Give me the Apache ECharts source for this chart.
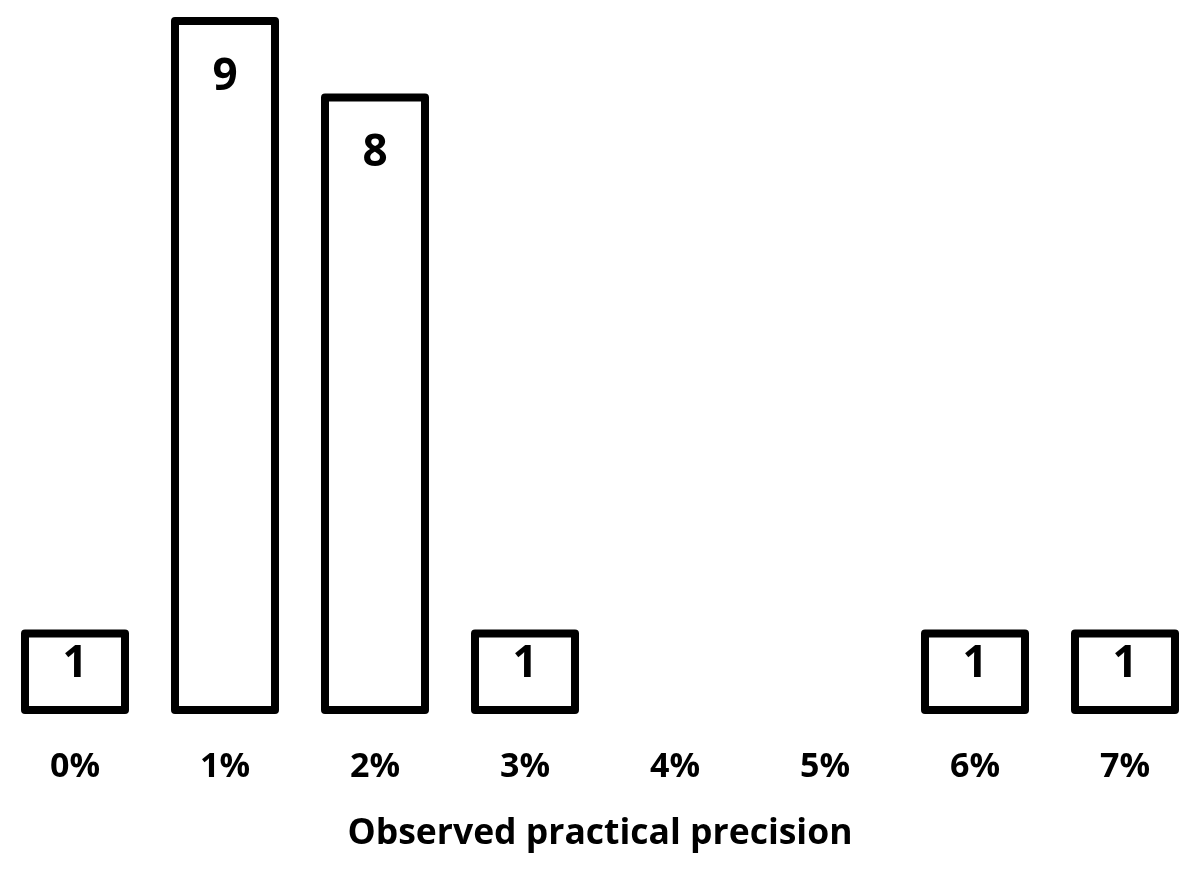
<!DOCTYPE html>
<html>
<head>
<meta charset="utf-8">
<script src="https://cdn.jsdelivr.net/npm/echarts@6/dist/echarts.min.js"></script>
<style>
html,body{margin:0;padding:0;background:#fff;}
#chart{width:1200px;height:884px;}
</style>
</head>
<body>
<div id="chart"></div>
<script>
const categories = ['0%', '1%', '2%', '3%', '4%', '5%', '6%', '7%'];
const counts = [1, 9, 8, 1, 0, 0, 1, 1];
const axisTitle = 'Observed practical precision';

const FONT = '"Open Sans", sans-serif';
const chart = echarts.init(document.getElementById('chart'), null, {renderer: 'canvas'});

const seriesData = counts.map(function (v, i) { return [i, v]; });

chart.setOption({
  animation: false,
  backgroundColor: '#ffffff',
  grid: {left: -3.5, right: -3.5, top: 21, bottom: 174, containLabel: false},
  xAxis: {
    type: 'category',
    data: categories,
    axisLine: {show: false},
    axisTick: {show: false},
    axisLabel: {
      color: '#000', fontFamily: FONT, fontWeight: 'bold', fontSize: 34, margin: 40
    },
    name: axisTitle,
    nameLocation: 'middle',
    nameGap: 106,
    nameTextStyle: {color: '#000', fontFamily: FONT, fontWeight: 'bold', fontSize: 35.5}
  },
  yAxis: {
    type: 'value',
    min: 0, max: 9, interval: 1,
    show: false,
    splitLine: {show: false}
  },
  series: [{
    type: 'custom',
    data: seriesData,
    encode: {x: 0, y: 1},
    clip: false,
    renderItem: function (params, api) {
      const v = api.value(1);
      if (!v) return null;
      const base = api.coord([api.value(0), 0]);
      const top = api.coord([api.value(0), v]);
      const w = 100;
      return {
        type: 'group',
        children: [
          {
            type: 'rect',
            shape: {x: base[0] - w / 2, y: top[1], width: w, height: base[1] - top[1]},
            style: {fill: '#ffffff', stroke: '#000000', lineWidth: 8, lineJoin: 'round'}
          },
          {
            type: 'text',
            x: base[0],
            y: top[1] + (v > 1 ? 56 : 31),
            style: {
              text: String(v),
              align: 'center',
              verticalAlign: 'middle',
              fontFamily: FONT,
              fontWeight: 'bold',
              fontSize: 44,
              fill: '#000'
            }
          }
        ]
      };
    }
  }]
});
</script>
</body>
</html>
